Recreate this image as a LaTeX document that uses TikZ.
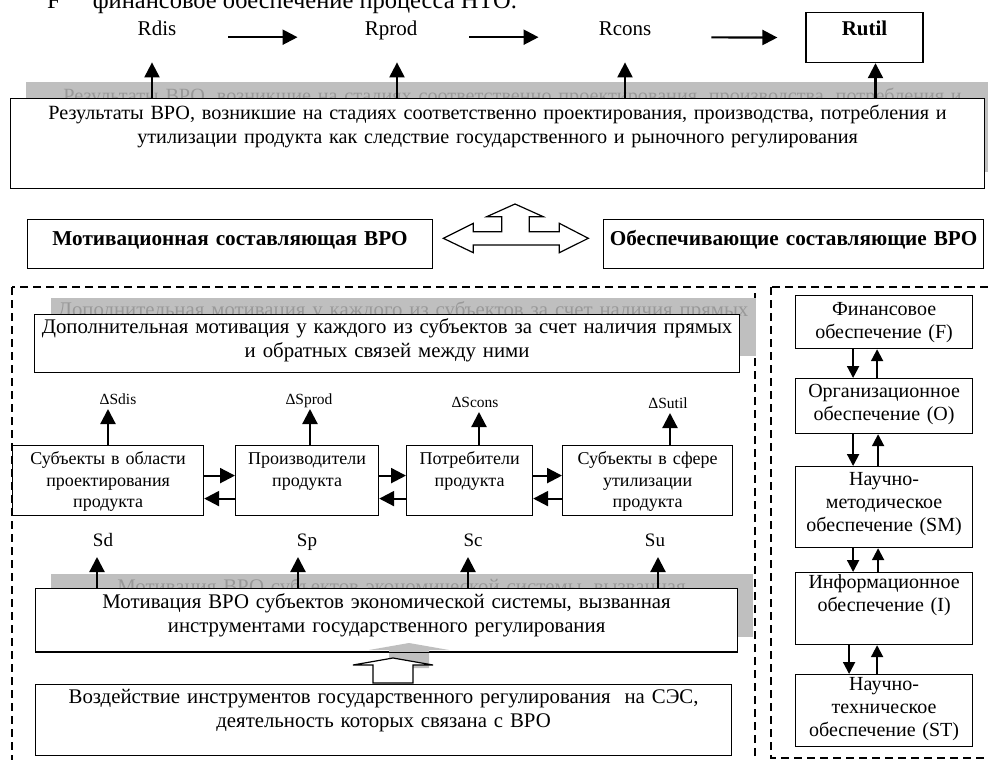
\documentclass[tikz,border=0pt]{standalone}
\usepackage{fontspec}
\setmainfont{Liberation Serif}
\usetikzlibrary{arrows.meta}

\begin{document}
\begin{tikzpicture}[x=1pt,y=-1pt,
  box/.style={draw,line width=1.2pt,fill=white,anchor=north west,align=center,inner xsep=2pt,inner ysep=0pt,text height=19pt,font=\fontsize{20.8}{23.5}\selectfont},
  shadowbox/.style={box,draw=none,fill=black!25,text=black!40},
  subbox/.style={box,font=\fontsize{18}{21.5}\selectfont},
  supbox/.style={box,font=\fontsize{20}{23}\selectfont},
  rnode/.style={anchor=north,inner sep=0pt,minimum height=50pt,text height=23pt,text depth=27pt,font=\fontsize{21}{24}\selectfont},
  lbl/.style={anchor=south,inner sep=0pt,text depth=10pt,font=\fontsize{19}{22}\selectfont},
  dlbl/.style={anchor=south,inner sep=0pt,text depth=4pt,font=\fontsize{15.5}{18}\selectfont},
  dashframe/.style={draw,line width=1.3pt,dash pattern=on 8pt off 5pt},
  arr/.style={-{Triangle[width=15pt,length=15pt]},line width=2.2pt},
  sarr/.style={-{Triangle[width=12pt,length=12pt]},line width=2pt},
  blockarrow/.style={draw,line width=1.2pt,fill=white,line join=miter}]
  \useasboundingbox (0,0) rectangle (988,760);
  \clip (0,0) rectangle (988,760);

  %frames
  \draw[dashframe] (12,287) rectangle (755,800);
  \draw[dashframe] (771,287) rectangle (1000,758);

  %heading cut at the top
  \node[anchor=base west,inner sep=0pt,font=\fontsize{24.5}{28}\selectfont] (head) at (47,9) {F\hspace{32pt}финансовое обеспечение процесса НТО.};

  %results of the stages
  \node[rnode] (Rdis) at (157,12) {Rdis};
  \node[rnode] (Rprod) at (391,12) {Rprod};
  \node[rnode] (Rcons) at (625,12) {Rcons};
  \node[rnode,draw,line width=1.2pt,minimum width=117pt,font=\fontsize{21}{24}\selectfont\bfseries] (Rutil) at (864.5,12) {Rutil};
  \draw[arr,shorten <=52pt,shorten >=67pt] (Rdis.east) -- (Rprod.west);
  \draw[arr,shorten <=52pt,shorten >=60pt] (Rprod.east) -- (Rcons.west);
  \draw[arr,shorten <=60pt,shorten >=28pt] (Rcons.east) -- (Rutil.west);

  %results box
  \node[shadowbox,text height=21pt,text width=970pt,text depth=69pt,font=\fontsize{20.2}{23.5}\selectfont] (res-sh) at (25,81) {Результаты ВРО, возникшие на стадиях соответственно проектирования, производства, потребления и\\утилизации продукта как следствие государственного и рыночного регулирования};
  \node[box,text height=21pt,text width=970pt,text depth=69pt,font=\fontsize{20.2}{23.5}\selectfont] (res) at (10,98) {Результаты ВРО, возникшие на стадиях соответственно проектирования, производства, потребления и\\утилизации продукта как следствие государственного и рыночного регулирования};
  \draw[arr] ([xshift=-5pt]Rdis.south |- res.north) -- ([xshift=-5pt]Rdis.south);
  \draw[arr] ([xshift=6pt]Rprod.south |- res.north) -- ([xshift=6pt]Rprod.south);
  \draw[arr] (Rcons.south |- res.north) -- (Rcons.south);
  \draw[arr] ([xshift=11pt]Rutil.south |- res.north) -- ([xshift=11pt]Rutil.south);

  %components
  \node[box,text height=26pt,text width=401pt,text depth=23pt,font=\fontsize{21.2}{24}\selectfont\bfseries] (mot) at (27,219) {Мотивационная составляющая ВРО};
  \node[box,text height=26pt,text width=376pt,text depth=23pt,font=\fontsize{21.2}{24}\selectfont\bfseries] (obe) at (603,219) {Обеспечивающие составляющие ВРО};
  \draw[blockarrow] (443.3,238.3) -- (473.3,223.3) -- (473.3,231.7) -- (501.7,231.7) -- (501.7,216.7) -- (486.7,216.7) -- (515,204) -- (543.3,216.7) -- (529.3,216.7) -- (529.3,231.7) -- (559.3,231.7) -- (559.3,223.3) -- (588.3,238.3) -- (559.3,252.7) -- (559.3,245) -- (473.3,245) -- (473.3,252.7) -- cycle;

  %additional motivation
  \node[shadowbox,text width=701pt,text depth=39pt] (dop-sh) at (50,297) {Дополнительная мотивация у каждого из субъектов за счет наличия прямых\\и обратных связей между ними};
  \node[box,text width=701pt,text depth=39pt] (dop) at (34,314) {Дополнительная мотивация у каждого из субъектов за счет наличия прямых\\и обратных связей между ними};

  %subjects
  \node[subbox,text width=187pt,text depth=51pt] (sub1) at (12,445) {Субъекты в области\\проектирования\\продукта};
  \node[subbox,text width=139pt,text depth=51pt] (sub2) at (235,445) {Производители\\продукта};
  \node[subbox,text width=122pt,text depth=51pt] (sub3) at (406,445) {Потребители\\продукта};
  \node[subbox,text width=166pt,text depth=51pt] (sub4) at (562,445) {Субъекты в сфере\\утилизации\\продукта};
  \draw[arr] ([yshift=5pt]sub1.east) -- ([yshift=5pt]sub2.west);
  \draw[arr] ([yshift=-18pt]sub2.west) -- ([yshift=-18pt]sub1.east);
  \draw[arr] ([yshift=5pt]sub2.east) -- ([yshift=5pt]sub3.west);
  \draw[arr] ([yshift=-18pt]sub3.west) -- ([yshift=-18pt]sub2.east);
  \draw[arr] ([yshift=5pt]sub3.east) -- ([yshift=5pt]sub4.west);
  \draw[arr] ([yshift=-18pt]sub4.west) -- ([yshift=-18pt]sub3.east);

  %increments
  \node[dlbl] (dSdis) at (118,409) {ΔSdis};
  \node[dlbl] (dSprod) at (309,409) {ΔSprod};
  \node[dlbl] (dScons) at (475,412) {ΔScons};
  \node[dlbl] (dSutil) at (668,413) {ΔSutil};
  \draw[arr] ([xshift=-10pt]dSdis.south |- sub1.north) -- ([xshift=-10pt]dSdis.south);
  \draw[arr] ([xshift=1pt]dSprod.south |- sub2.north) -- ([xshift=1pt]dSprod.south);
  \draw[arr] ([xshift=4pt]dScons.south |- sub3.north) -- ([xshift=4pt]dScons.south);
  \draw[arr] ([xshift=2pt]dSutil.south |- sub4.north) -- ([xshift=2pt]dSutil.south);

  %motivation by state regulation
  \node[shadowbox,text height=20pt,text width=698pt,text depth=43pt] (mvr-sh) at (50,573) {Мотивация ВРО субъектов экономической системы, вызванная\\инструментами государственного регулирования};
  \node[box,text height=20pt,text width=698pt,text depth=43pt] (mvr) at (35,588) {Мотивация ВРО субъектов экономической системы, вызванная\\инструментами государственного регулирования};
  \node[lbl] (Sd) at (103,557) {Sd};
  \node[lbl] (Sp) at (307,557) {Sp};
  \node[lbl] (Sc) at (473,557) {Sc};
  \node[lbl] (Su) at (655,557) {Su};
  \draw[arr] ([xshift=-6pt]Sd.south |- mvr.north) -- ([xshift=-6pt]Sd.south);
  \draw[arr] ([xshift=-9pt]Sp.south |- mvr.north) -- ([xshift=-9pt]Sp.south);
  \draw[arr] ([xshift=-5pt]Sc.south |- mvr.north) -- ([xshift=-5pt]Sc.south);
  \draw[arr] ([xshift=3pt]Su.south |- mvr.north) -- ([xshift=3pt]Su.south);

  %impact of the instruments
  \node[box,text width=692pt,text depth=52pt] (vozd) at (35,684) {Воздействие инструментов государственного регулирования~ на СЭС,\\деятельность которых связана с ВРО};
  \fill[black!25] (389,668) -- (389,650) -- (369,650) -- (409,643) -- (449,650) -- (429,650) -- (429,668) -- cycle;
  \draw[line width=1.2pt] (mvr.south west) -- (mvr.south east);
  \draw[blockarrow] (373,683) -- (373,665) -- (353,665) -- (393,658) -- (433,665) -- (413,665) -- (413,683) -- cycle;

  %supporting components
  \node[supbox,text height=20pt,text width=173pt,text depth=33pt] (fF) at (795,295) {Финансовое\\обеспечение (F)};
  \node[supbox,text width=173pt,text depth=36pt] (fO) at (795,378) {Организационное\\обеспечение (O)};
  \node[supbox,text width=173pt,text depth=62pt] (fSM) at (795,466) {Научно-\\методическое\\обеспечение (SM)};
  \node[supbox,text height=16pt,text width=173pt,text depth=56pt] (fI) at (795,572) {Информационное\\обеспечение (I)};
  \node[supbox,text height=16pt,text width=173pt,text depth=56pt] (fST) at (795,674) {Научно-\\техническое\\обеспечение (ST)};
  \draw[sarr] ([xshift=-31pt]fF.south) -- ([xshift=-31pt]fO.north);
  \draw[sarr] ([xshift=-7pt]fO.north) -- ([xshift=-7pt]fF.south);
  \draw[sarr] ([xshift=-31pt]fO.south) -- ([xshift=-31pt]fSM.north);
  \draw[sarr] ([xshift=-6pt]fSM.north) -- ([xshift=-6pt]fO.south);
  \draw[sarr] ([xshift=-31pt]fSM.south) -- ([xshift=-31pt]fI.north);
  \draw[sarr] ([xshift=-6pt]fI.north) -- ([xshift=-6pt]fSM.south);
  \draw[sarr] ([xshift=-35pt]fI.south) -- ([xshift=-35pt]fST.north);
  \draw[sarr] ([xshift=-7pt]fST.north) -- ([xshift=-7pt]fI.south);
\end{tikzpicture}
\end{document}
